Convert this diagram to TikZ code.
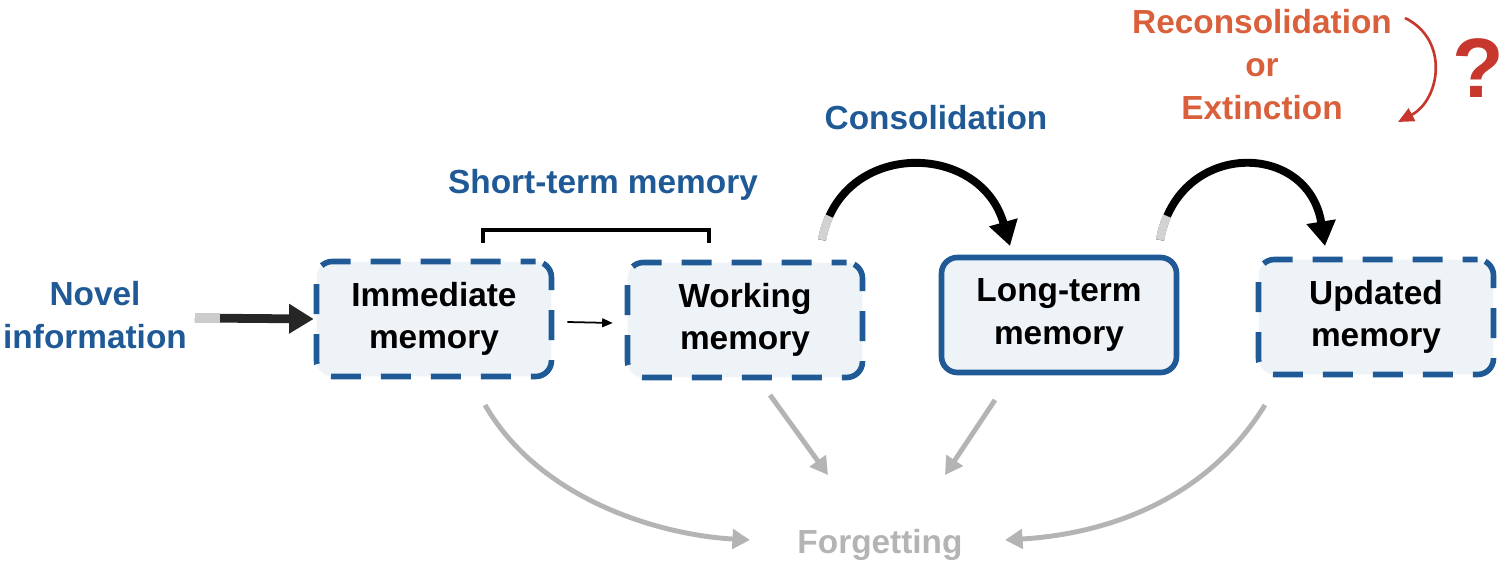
\documentclass[tikz,border=0pt]{standalone}
\usepackage{fontspec}
\setmainfont{Liberation Sans}
\usetikzlibrary{arrows.meta,calc}
\definecolor{bl}{HTML}{1F5A96}
\definecolor{bx}{HTML}{EEF3F8}
\definecolor{org}{HTML}{D9603B}
\definecolor{rd}{HTML}{C8372D}
\definecolor{gr}{HTML}{B4B4B4}
\begin{document}
\begin{tikzpicture}[x=0.02cm,y=-0.02cm,
 txt/.style={font=\fontsize{19}{24}\selectfont\bfseries,align=center},
 mem/.style={txt,fill=bx,draw=bl,line width=3.2pt,rounded corners=9pt,minimum width=4.7cm,minimum height=2.3cm},
 dsh/.style={dash pattern=on 0.6cm off 0.4cm,dash phase=0.3cm},
 big/.style={line width=4.5pt,-{Triangle[length=14pt,width=16pt]}},
 fade/.style={line width=4.8pt,dash pattern=on 0.5cm off 20cm},
 fa/.style={gr,line width=2.8pt,-{Triangle[length=10pt,width=11pt]}}]
\useasboundingbox (0,0) rectangle (1502,563);
\node[mem,dsh] (im) at (434,319) {Immediate\\memory};
\node[mem,dsh] (wm) at (745,320) {Working\\memory};
\node[mem] (lt) at (1059,315) {Long-term\\memory};
\node[mem,dsh] (up) at (1376,317) {Updated\\memory};
\node[txt,text=bl] (nov) at (95,315) {Novel\\information};
\node[txt,text=bl] (stm) at (603,185) {Short-term memory};
\node[txt,text=bl] (con) at (936,118) {Consolidation};
\node[txt,text=org,font=\fontsize{19}{24.5}\selectfont\bfseries] (rec) at (1262,65) {Reconsolidation\\or\\Extinction};
\node[text=rd,font=\fontsize{48}{50}\selectfont\bfseries] (q) at (1478,68) {?};
\node[txt,text=gr] (fo) at (880,545) {Forgetting};
\coordinate (n1) at (195,318);
\draw[big,black!85,line width=5pt] (n1) -- (im.west);
\draw[gray!40,line width=5.2pt] (n1) -- ++(25,0);
\draw[black,line width=1pt,-{Triangle[length=6pt,width=5pt]}] ($(im.east)+(13,3)$) -- ($(wm.west)+(-12,3)$);
\draw[line width=2pt] (483,243) -- (483,230) -- (709,230) -- (709,243);
\coordinate (c1) at (822,240); \coordinate (c2) at (1010,246);
\draw[big] (c1) .. controls (840,140) and (980,140) .. (c2);
\draw[fade,gray!35] (c1) .. controls (840,140) and (980,140) .. (c2);
\coordinate (c3) at (1160,240); \coordinate (c4) at (1325,246);
\draw[big] (c3) .. controls (1178,140) and (1308,140) .. (c4);
\draw[fade,gray!35] (c3) .. controls (1178,140) and (1308,140) .. (c4);
\coordinate (r1) at (1405,18); \coordinate (r2) at (1398,122);
\draw[rd,line width=1.5pt,-{Triangle[length=9pt,width=8pt]}] (r1) .. controls (1450,40) and (1440,100) .. (r2);
\coordinate (f1) at (485,405); \coordinate (f2) at (770,395);
\coordinate (f3) at (995,400); \coordinate (f4) at (1265,405);
\draw[fa] (f1) .. controls (540,500) and (660,535) .. (750,540);
\draw[fa] (f2) -- (828,475);
\draw[fa] (f3) -- (945,475);
\draw[fa] (f4) .. controls (1200,510) and (1090,535) .. (1005,540);
\end{tikzpicture}
\end{document}
